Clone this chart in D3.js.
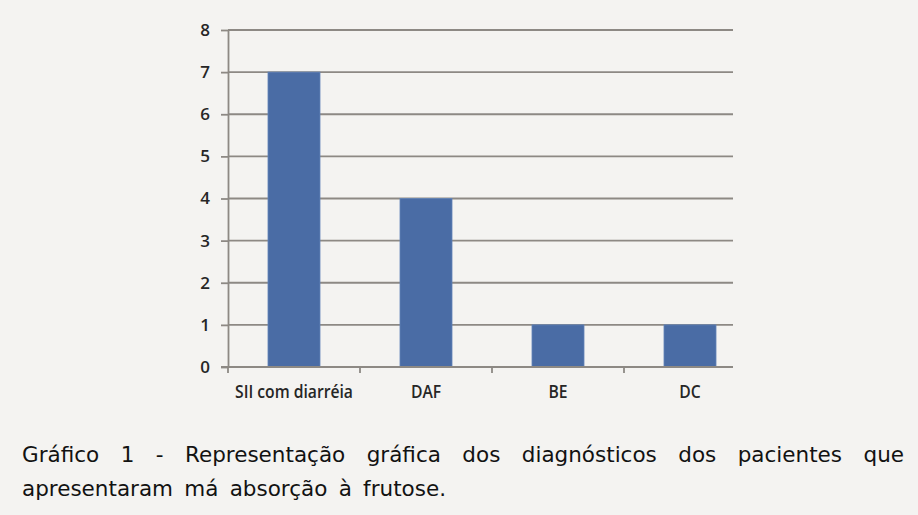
<!DOCTYPE html>
<html>
<head>
<meta charset="utf-8">
<script src="https://cdn.jsdelivr.net/npm/d3@7"></script>
<style>
  html, body { margin: 0; padding: 0; background: #f4f3f1; }
  svg { display: block; }
</style>
</head>
<body>
<svg id="chart" width="918" height="515"></svg>
<script>
// ---- data ----
const categories = ["SII com diarréia", "DAF", "BE", "DC"];
const values = [7, 4, 1, 1];
const yTicks = [0, 1, 2, 3, 4, 5, 6, 7, 8];
const captionLine1 = ["Gráfico", "1", "-", "Representação", "gráfica", "dos", "diagnósticos", "dos", "pacientes", "que"];
const captionLine2 = ["apresentaram", "má", "absorção", "à", "frutose."];

// ---- layout ----
const svg = d3.select("#chart");
const W = 918, H = 515;
svg.append("rect").attr("width", W).attr("height", H).attr("fill", "#f4f3f1");

const x0 = 228, gridRight = 733;
const x = d3.scaleBand().domain(categories).range([x0, x0 + 528]).paddingInner(0.606).paddingOuter(0.303);
const y = d3.scaleLinear().domain([0, 8]).range([367, 30]);

const gridColor = "#8d8984";
const labelFont = "'Open Sans', 'Liberation Sans', Arial, sans-serif";

// gridlines
svg.append("g").selectAll("line").data(yTicks.filter(d => d > 0)).join("line")
  .attr("x1", x0).attr("x2", gridRight)
  .attr("y1", d => y(d)).attr("y2", d => y(d))
  .attr("stroke", gridColor).attr("stroke-width", 1.8);

// bars
svg.append("g").selectAll("rect").data(values).join("rect")
  .attr("x", (d, i) => x(categories[i]))
  .attr("y", d => y(d))
  .attr("width", x.bandwidth())
  .attr("height", d => y(0) - y(d))
  .attr("fill", "#4a6ca5")
  .attr("stroke", "#6384b8").attr("stroke-width", 0.8);

// y axis
const yAxis = d3.axisLeft(y).tickValues(yTicks).tickSize(7).tickPadding(11).tickSizeOuter(0);
const gy = svg.append("g").attr("transform", `translate(${x0},0)`).call(yAxis);
gy.select(".domain").attr("stroke", gridColor).attr("stroke-width", 1.8);
gy.selectAll(".tick line").attr("stroke", gridColor).attr("stroke-width", 1.8);
gy.selectAll(".tick text")
  .style("fill", "#262626").style("font-family", labelFont)
  .style("font-weight", "600").style("font-size", "17px");

// x axis baseline
svg.append("line").attr("x1", x0 - 7).attr("x2", gridRight)
  .attr("y1", y(0)).attr("y2", y(0)).attr("stroke", gridColor).attr("stroke-width", 1.8);

// x ticks at band boundaries
const step = x.step();
svg.append("g").selectAll("line").data(categories).join("line")
  .attr("x1", (d, i) => x0 + i * step).attr("x2", (d, i) => x0 + i * step)
  .attr("y1", y(0)).attr("y2", y(0) + 6)
  .attr("stroke", gridColor).attr("stroke-width", 1.8);

// category labels
const catTexts = svg.append("g").selectAll("text").data(categories).join("text")
  .text(d => d)
  .attr("text-anchor", "middle")
  .style("font-family", labelFont)
  .style("font-size", "17.5px")
  .style("font-weight", "600")
  .style("fill", "#262626");
const firstW = catTexts.node().getComputedTextLength();
const catK = 118 / firstW;
catTexts.attr("transform", d => `translate(${x(d) + x.bandwidth() / 2},398) scale(${catK},1)`);

// caption (justified, two lines)
const capG = svg.append("g").attr("transform", "translate(22,0)");
const fontCap = "'DejaVu Sans', Verdana, sans-serif";
const capSize = "21.5px";
function addWords(list, cls, baseY) {
  return capG.selectAll("text." + cls).data(list).join("text")
    .attr("class", cls).text(d => d)
    .style("font-family", fontCap).style("font-size", capSize).style("fill", "#121212")
    .attr("y", baseY);
}
const w1 = addWords(captionLine1, "a", 462);
const w2 = addWords(captionLine2, "b", 496);
function layout(sel, lineW) {
  const widths = [];
  sel.each(function () { widths.push(this.getComputedTextLength()); });
  const gap = (lineW - d3.sum(widths)) / (widths.length - 1);
  let cx = 0;
  sel.attr("x", (d, i) => { const px = cx; cx += widths[i] + gap; return px; });
}
layout(w1, 904 - 22);
layout(w2, 446 - 22);
</script>
</body>
</html>
